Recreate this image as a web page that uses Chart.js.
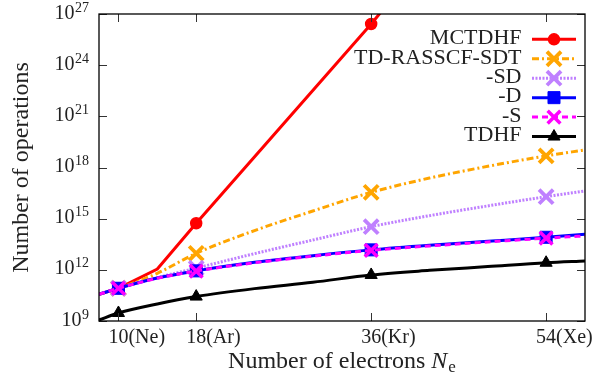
<!DOCTYPE html>
<html>
<head>
<meta charset="utf-8">
<script src="https://cdn.jsdelivr.net/npm/chart.js@4.4.0/dist/chart.umd.min.js"></script>
<style>
  html, body { margin: 0; padding: 0; background: #fff; }
  #wrap { width: 594px; height: 380px; }
</style>
</head>
<body>
<div id="wrap"><canvas id="ops"></canvas></div>
<script>
var electrons = [8, 10, 14, 18, 24, 30, 36, 42, 48, 54, 58];
var mctdhfN = [8, 10, 14, 18, 36, 38];
var markerN = [10, 18, 36, 54];

// number of operations
var mctdhf = [3.7e10, 8.3e10, 1.12e12, 5.4e14, 2.6e26, 6.3e27];
var sdt = [3.7e10, 8.3e10, 6.3e11, 9.3e12, 2.0e14, 2.8e15, 3.5e16, 2.4e17, 1.17e18, 4.8e18, 1.07e19];
var sd = [3.7e10, 8.3e10, 3.5e11, 1.26e12, 8.9e12, 5.6e13, 3.4e14, 1.5e15, 5.6e15, 1.95e16, 4.2e16];
var dOnly = [3.7e10, 8.3e10, 3.3e11, 8.7e11, 2.75e12, 6.8e12, 1.48e13, 2.75e13, 4.7e13, 8.1e13, 1.23e14];
var sOnly = [3.7e10, 8.3e10, 3.2e11, 8.5e11, 2.6e12, 6.3e12, 1.38e13, 2.5e13, 4.3e13, 7.2e13, 9.8e13];
var tdhf = [1.15e9, 2.95e9, 1.0e10, 2.7e10, 7.9e10, 1.86e11, 5.0e11, 9.3e11, 1.55e12, 2.6e12, 3.3e12];

var xTicks = [10, 18, 36, 54];
var xTickNums = ['10', '18', '36', '54'];
var xTickTags = ['(Ne)', '(Ar)', '(Kr)', '(Xe)'];
var yTicks = [1e9, 1e12, 1e15, 1e18, 1e21, 1e24, 1e27];
var yTickExp = ['9', '12', '15', '18', '21', '24', '27'];

var serif = '"Liberation Serif", "DejaVu Serif", serif';

function pts(xs, ys) {
  return xs.map(function (x, i) { return { x: x, y: ys[i] }; });
}

function series(label, xs, ys, color, dash, style, r, bw, smooth) {
  return {
    label: label,
    data: pts(xs, ys),
    borderColor: color,
    backgroundColor: color,
    borderWidth: 3,
    borderDash: dash,
    pointStyle: style,
    markR: r,
    pointRadius: function (c) { return markerN.indexOf(c.raw.x) >= 0 ? r : 0; },
    pointBorderWidth: bw,
    pointBackgroundColor: color,
    pointBorderColor: color,
    tension: smooth ? 0.4 : 0,
    cubicInterpolationMode: smooth ? 'monotone' : 'default',
    clip: 0
  };
}

var sets = [
  series('MCTDHF', mctdhfN, mctdhf, '#ff0000', [], 'circle', 5.5, 1.5, false),
  series('TD-RASSCF-SDT', electrons, sdt, '#ffa500', [7, 3, 2, 3], 'crossRot', 10, 3.8, true),
  series('-SD', electrons, sd, '#bf80ff', [2, 1.5], 'crossRot', 10, 3.8, true),
  series('-D', electrons, dOnly, '#0000ff', [], 'rect', 8.5, 1, true),
  series('-S', electrons, sOnly, '#ff00ff', [6, 4], 'crossRot', 9, 3.5, true),
  series('TDHF', electrons, tdhf, '#000000', [], 'triangle', 7, 1, true)
];
sets.forEach(function (d, i) { d.order = sets.length - i; });

function mark(ctx, d, x, y) {
  ctx.setLineDash([]);
  ctx.fillStyle = d.borderColor;
  ctx.strokeStyle = d.borderColor;
  ctx.lineWidth = d.pointBorderWidth;
  Chart.helpers.drawPoint(ctx, { pointStyle: d.pointStyle, radius: d.markR, rotation: 0, borderWidth: d.pointBorderWidth }, x, y);
}

var frame = {
  id: 'frame',
  afterDraw: function (chart) {
    var ctx = chart.ctx, a = chart.chartArea;
    var xs = chart.scales.x, ys = chart.scales.y;
    ctx.save();
    ctx.setLineDash([]);

    // ticks pointing inwards, mirrored
    ctx.strokeStyle = '#333';
    ctx.lineWidth = 1;
    ctx.beginPath();
    xTicks.forEach(function (t) {
      var px = Math.round(xs.getPixelForValue(t)) + 0.5;
      ctx.moveTo(px, a.bottom); ctx.lineTo(px, a.bottom - 8);
      ctx.moveTo(px, a.top); ctx.lineTo(px, a.top + 8);
    });
    yTicks.forEach(function (t) {
      var py = Math.round(ys.getPixelForValue(t)) + 0.5;
      ctx.moveTo(a.left, py); ctx.lineTo(a.left + 8, py);
      ctx.moveTo(a.right, py); ctx.lineTo(a.right - 8, py);
    });
    ctx.stroke();

    ctx.strokeStyle = '#000';
    ctx.lineWidth = 1.3;
    ctx.strokeRect(a.left, a.top, a.right - a.left, a.bottom - a.top);

    ctx.fillStyle = '#222';
    // x tick labels, number part centred on the tick
    ctx.textBaseline = 'alphabetic';
    ctx.textAlign = 'left';
    ctx.font = '20px ' + serif;
    xTicks.forEach(function (t, i) {
      var px = xs.getPixelForValue(t);
      var w = ctx.measureText(xTickNums[i]).width;
      ctx.fillText(xTickNums[i] + xTickTags[i], px - w / 2, a.bottom + 22);
    });

    // y tick labels 10^n
    ctx.textAlign = 'right';
    yTicks.forEach(function (t, i) {
      var py = ys.getPixelForValue(t);
      ctx.font = '14px ' + serif;
      var ew = ctx.measureText(yTickExp[i]).width;
      ctx.fillText(yTickExp[i], 89, py - 2.5);
      ctx.font = '20px ' + serif;
      ctx.fillText('10', 89 - ew - 0.5, py + 4.5);
    });

    // x title
    var cx = (a.left + a.right) / 2;
    var p1 = 'Number of electrons ';
    ctx.font = '24px ' + serif;
    var w1 = ctx.measureText(p1).width;
    ctx.font = 'italic 24px ' + serif;
    var w2 = ctx.measureText('N').width;
    ctx.font = '17px ' + serif;
    var w3 = ctx.measureText('e').width;
    var x0 = cx - (w1 + w2 + w3 + 1) / 2;
    ctx.textAlign = 'left';
    ctx.font = '24px ' + serif;
    ctx.fillText(p1, x0, 368);
    ctx.font = 'italic 24px ' + serif;
    ctx.fillText('N', x0 + w1, 368);
    ctx.font = '17px ' + serif;
    ctx.fillText('e', x0 + w1 + w2 + 1, 372);

    // y title
    ctx.save();
    ctx.translate(28, (a.top + a.bottom) / 2);
    ctx.rotate(-Math.PI / 2);
    ctx.textAlign = 'center';
    ctx.font = '24px ' + serif;
    ctx.fillText('Number of operations', 0, 0);
    ctx.restore();

    // key, top right inside the plot
    chart.data.datasets.forEach(function (d, i) {
      var y = 39.3 + i * 19.45;
      ctx.fillStyle = '#222';
      ctx.textAlign = 'right';
      ctx.textBaseline = 'middle';
      ctx.font = '22px ' + serif;
      ctx.fillText(d.label, 521.5, y - 1);
      ctx.strokeStyle = d.borderColor;
      ctx.lineWidth = d.borderWidth;
      ctx.setLineDash(d.borderDash);
      ctx.beginPath();
      ctx.moveTo(532, y); ctx.lineTo(576, y);
      ctx.stroke();
      mark(ctx, d, 554, y);
    });
    ctx.restore();
  }
};

new Chart(document.getElementById('ops'), {
  type: 'line',
  data: { datasets: sets },
  options: {
    responsive: true,
    maintainAspectRatio: false,
    animation: false,
    layout: { padding: { left: 99, right: 9, top: 14, bottom: 59 } },
    plugins: { legend: { display: false }, tooltip: { enabled: false } },
    scales: {
      x: { type: 'linear', min: 8, max: 58, display: false },
      y: { type: 'logarithmic', min: 1e9, max: 1e27, display: false }
    }
  },
  plugins: [frame]
});
</script>
</body>
</html>
